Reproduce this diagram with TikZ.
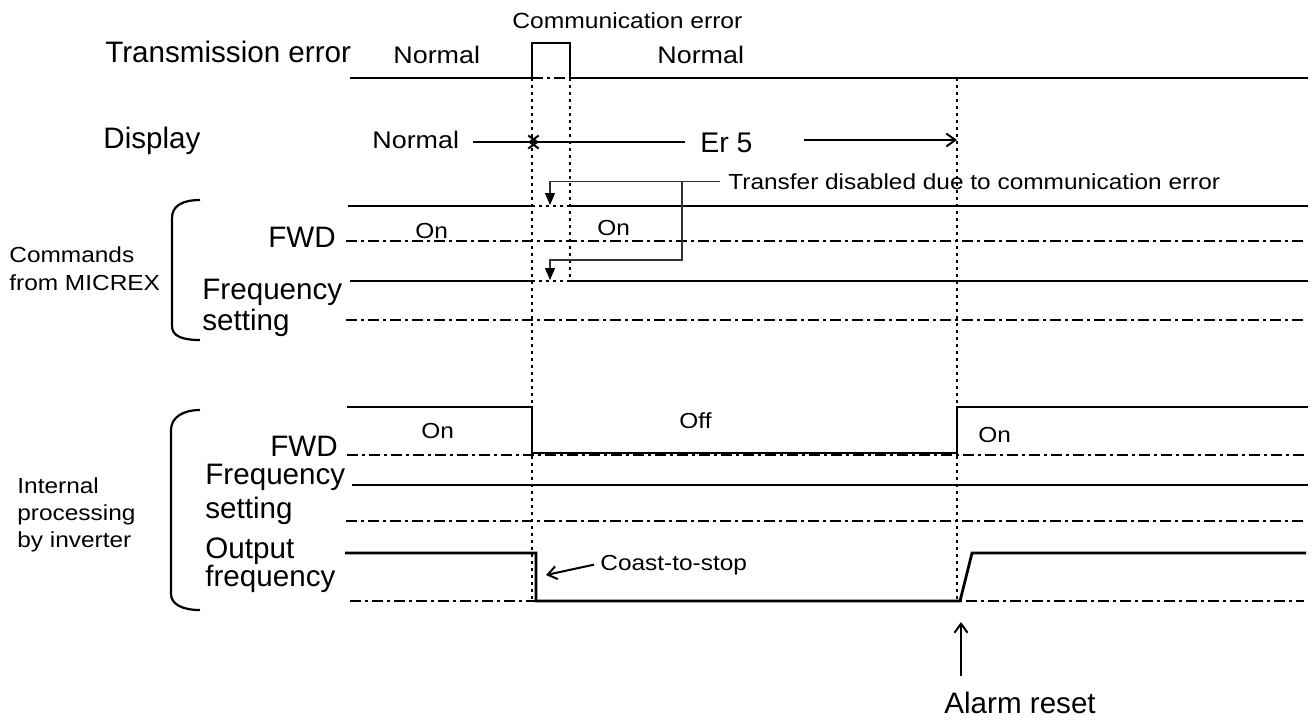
\documentclass[tikz,border=0pt]{standalone}
\usepackage{fontspec}
\setmainfont{Liberation Sans}
\newfontfamily\widesans[FakeStretch=1.12]{Liberation Sans}
\usetikzlibrary{arrows.meta}

\tikzset{
  sig/.style={line width=1.4pt},
  zeroline/.style={line width=1pt, dash pattern=on 5.5pt off 2pt on 1.5pt off 2pt},
  evline/.style={line width=1pt, dash pattern=on 1.5pt off 2pt},
  conn/.style={line width=0.6pt, black!80},
  brace/.style={line width=1.1pt},
  biglbl/.style={font=\fontsize{14.8}{17}\selectfont, inner sep=0pt, anchor=base west},
  smalllbl/.style={font=\widesans\fontsize{10.9}{13}\selectfont, inner sep=0pt, anchor=base west},
  statelbl/.style={font=\widesans\fontsize{12}{14}\selectfont, inner sep=0pt, anchor=base west},
}

\begin{document}
\begin{tikzpicture}[x=0.5pt, y=-0.5pt, >={Straight Barb[length=4.5pt,width=6.5pt]}]
  \useasboundingbox (0,0) rectangle (1316,720);
  % one unit = one pixel of the 1316 x 720 sheet, y runs downwards
  % event times: communication error 532..570, alarm reset at 957
  \coordinate (terr) at (532,0);
  \coordinate (tok) at (570,0);
  \coordinate (trst) at (957,0);

  % dotted event lines
  \draw[evline] (532,78) -- (532,601);
  \draw[evline] (570,78) -- (570,281);
  \draw[evline] (957,78) -- (957,601);
  \draw[evline] (532,206) -- (570,206) (532,281) -- (570,281);

  % transmission error
  \node[biglbl] (txlbl) at (105,62) {Transmission error};
  \draw[sig] (350,78) -- (532,78) -- (532,43) -- (570,43) -- (570,78) -- (1308,78);
  \draw[zeroline] (532,78) -- (570,78);
  \node[statelbl] (txok1) at (393,63) {Normal};
  \node[statelbl] (txok2) at (657,63) {Normal};
  \node[smalllbl, font=\widesans\fontsize{11}{13}\selectfont] (txerr) at (512,28) {Communication error};

  % display
  \node[biglbl] (displbl) at (103,148) {Display};
  \node[statelbl] (dnorm) at (372,148) {Normal};
  \node[biglbl, font=\fontsize{14.2}{17}\selectfont] (der) at (700,152) {Er 5};
  \draw[line width=1pt, ->] (473,142) -- (539,142);
  \draw[line width=1pt, ->] (685,142) -- (528,142);
  \draw[line width=1pt, ->] (804,140) -- (trst |- 0,140);

  % commands from MICREX
  \draw[brace] (200,200) .. controls (182,200) and (172,206) .. (172,218) -- (172,326)
    .. controls (172,336) and (182,340) .. (200,340);
  \node[smalllbl] (cmd1) at (9,262) {Commands};
  \node[smalllbl] (cmd2) at (9,290) {from MICREX};
  \node[biglbl] (cfwd) at (268,247) {FWD};
  \node[biglbl] (cfrq1) at (202,299) {Frequency};
  \node[biglbl] (cfrq2) at (202,330) {setting};
  \draw[sig] (348,206) -- (532,206) (570,206) -- (1308,206);
  \draw[zeroline] (346,241) -- (1304,241);
  \draw[sig] (350,281) -- (532,281) (570,281) -- (1308,281);
  \draw[zeroline] (346,320) -- (1304,320);
  \node[smalllbl] (con1) at (415,238) {On};
  \node[smalllbl] (con2) at (597,235) {On};

  % transfer disabled
  \node[smalllbl] (xfer) at (728,189) {Transfer disabled due to communication error};
  \coordinate (xj) at (682,0);
  \draw[conn, -{Triangle[length=6pt,width=5pt,color=black]}] ([xshift=-4pt]xfer.west) -| (550,205);
  \draw[conn, -{Triangle[length=6pt,width=5pt,color=black]}] (xfer.west -| xj) |- (550,260) -- (550,280);

  % internal processing by inverter
  \draw[brace] (200,410) .. controls (182,410) and (171,418) .. (171,430) -- (171,594)
    .. controls (171,604) and (182,610) .. (200,610);
  \node[smalllbl] (int1) at (17,493) {Internal};
  \node[smalllbl] (int2) at (17,520) {processing};
  \node[smalllbl] (int3) at (17,547) {by inverter};
  \node[biglbl] (ifwd) at (270,456) {FWD};
  \node[biglbl] (ifrq1) at (205,484) {Frequency};
  \node[biglbl] (ifrq2) at (205,518) {setting};
  \node[biglbl] (iout1) at (205,558) {Output};
  \node[biglbl] (iout2) at (205,586) {frequency};
  \draw[sig] (347,407) -- (532,407) -- (532,453) -- (957,453) -- (957,407) -- (1308,407);
  \draw[zeroline] (347,455) -- (1304,455);
  \draw[sig] (352,485) -- (1308,485);
  \draw[zeroline] (346,521) -- (1304,521);
  \draw[sig] (345,553) -- (536,553) -- (536,601) -- (960,601) -- (972,553) -- (1306,553);
  \draw[zeroline] (350,601) -- (1304,601);
  \node[smalllbl] (ion1) at (421,438) {On};
  \node[smalllbl] (ioff) at (679,428) {Off};
  \node[smalllbl] (ion2) at (978,442) {On};

  % coast-to-stop and alarm reset
  \node[smalllbl] (coast) at (600,570) {Coast-to-stop};
  \draw[line width=1pt, ->] ([xshift=-3pt]coast.west) -- (546,575);
  \node[biglbl] (alarm) at (944,713) {Alarm reset};
  \coordinate (rst) at (961,622);
  \draw[line width=1pt, ->] ([yshift=7.5pt]alarm.north -| rst) -- (rst);
\end{tikzpicture}
\end{document}
